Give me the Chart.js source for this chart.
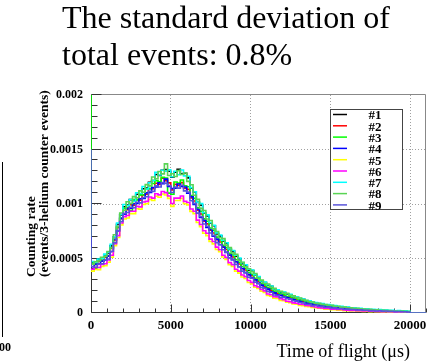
<!DOCTYPE html>
<html>
<head>
<meta charset="utf-8">
<script src="https://cdn.jsdelivr.net/npm/chart.js@4.4.1/dist/chart.umd.min.js"></script>
<style>
  html, body { margin: 0; padding: 0; background: #ffffff; }
  canvas { display: block; }
</style>
</head>
<body>
<canvas id="tof" width="445" height="364"></canvas>
<script>
// Time-of-flight spectra of nine runs, counting rate normalised to the 3He monitor.
const seriesLabels = ['#1', '#2', '#3', '#4', '#5', '#6', '#7', '#8', '#9'];
const seriesColors = ['#000000', '#ff0000', '#00ff00', '#0000ff', '#ffff00',
                      '#ff00ff', '#00ffff', '#59d454', '#5954d9'];

const BIN_WIDTH = 200;      // µs per bin
const DATA_END = 20000;     // last filled bin edge, µs
const RANGE_END = 21000;    // axis end, µs
const RATE_UNIT = 1e-6;     // rates below are stored in units of 1e-6

// content of the very first (narrow) bin of every run
const firstBin = [462, 448, 2400, 700, 384, 402, 472, 600, 1500];

// bin contents, 0 .. 20000 µs in 200 µs bins
const rate1 = [462,460,494,500,534,552,616,700,814,900,
  975,990,1040,1036,1090,1086,1140,1146,1200,1216,
  1270,1262,1310,1316,1300,1246,1292,1318,1276,1282,
  1240,1146,1110,1016,990,916,890,826,800,726,
  708,662,638,582,568,522,498,452,438,392,
  390,350,330,290,280,255,245,215,210,190,
  188,172,168,150,146,130,126,110,108,95,
  93,83,82,73,73,65,65,57,57,49,
  49,44,43,39,39,34,34,30,30,26,
  26,22,23,19,20,16,17,14,14,11];
const rate2 = [448,446,474,476,510,520,592,668,782,864,
  940,948,994,990,1040,1036,1084,1090,1140,1140,
  1190,1180,1236,1214,1194,1130,1180,1170,1196,1146,
  1134,1056,1028,942,908,842,818,760,734,672,
  652,604,582,530,514,470,450,406,394,352,
  342,304,290,256,245,219,210,185,181,163,
  159,143,139,123,121,107,104,90,90,78,
  77,68,67,59,59,51,52,45,46,39,
  40,36,35,31,32,28,28,25,25,22,
  22,19,20,17,18,15,16,13,14,11];
const rate3 = [458,452,482,484,518,528,600,676,790,872,
  962,968,940,1040,1038,1084,1082,1138,1140,1188,
  1214,1204,1244,1238,1100,1090,1202,1192,1220,1168,
  1158,1078,1052,964,932,864,842,780,758,696,
  670,622,600,548,532,488,466,426,410,372,
  354,318,302,270,258,233,223,200,195,179,
  168,152,149,133,131,117,115,101,100,90,
  83,74,73,65,66,58,59,52,53,46,
  43,39,39,35,36,32,32,29,29,26,
  25,22,23,20,21,18,19,16,17,14];
const rate4 = [424,446,450,476,484,522,562,674,752,868,
  906,958,962,1002,1006,1048,1050,1102,1106,1152,
  1156,1194,1186,1228,1160,1142,1146,1184,1160,1156,
  1100,1066,996,952,876,850,786,766,704,678,
  626,606,556,532,490,470,424,408,370,352,
  322,305,272,256,228,219,194,185,167,163,
  148,142,129,123,111,107,95,91,81,79,
  71,68,61,59,54,52,47,46,41,40,
  36,36,32,32,29,29,25,26,22,23,
  19,20,17,18,15,16,13,14,11,12];
const rate5 = [384,400,398,426,434,466,512,618,692,808,
  862,872,912,912,956,952,996,1002,1042,1032,
  1072,1062,1092,1082,1052,978,1032,1032,1052,1002,
  992,932,912,830,792,732,710,656,634,582,
  562,514,492,444,426,384,366,330,316,280,
  267,236,226,201,189,161,154,136,134,116,
  113,98,94,83,80,70,68,59,58,50,
  49,43,41,36,35,30,30,26,26,22,
  22,19,20,17,18,15,16,13,14,11,
  12,9,11,8,10,7,9,6,8,5];
const rate6 = [402,420,418,446,452,486,530,636,710,826,
  884,894,934,934,978,974,1018,1024,1064,1054,
  1094,1084,1114,1104,1074,1004,1054,1054,1074,1024,
  1014,954,934,852,812,754,732,678,656,604,
  580,530,510,462,444,402,384,348,334,298,
  281,250,240,215,203,175,168,150,148,131,
  123,108,104,93,90,80,78,69,68,60,
  55,49,47,42,41,36,36,32,32,28,
  26,23,24,21,22,19,20,17,18,15,
  15,12,14,11,13,10,12,9,11,8];
const rate7 = [472,466,496,502,540,558,630,700,826,905,
  995,985,1041,1025,1103,1096,1160,1138,1195,1215,
  1290,1266,1310,1302,1313,1250,1300,1268,1312,1258,
  1255,1150,1112,1015,1003,920,900,830,805,735,
  716,668,644,588,574,530,504,462,443,402,
  394,352,334,294,283,259,248,220,212,195,
  193,176,171,155,149,134,129,115,111,100,
  97,88,86,78,77,70,68,62,61,54,
  54,48,48,43,44,39,38,35,35,31,
  31,27,28,24,25,21,22,19,19,16];
const rate8 = [448,470,478,512,519,564,598,718,796,918,
  942,1020,1004,1068,1058,1120,1108,1178,1166,1248,
  1232,1298,1276,1368,1262,1278,1252,1306,1270,1284,
  1208,1176,1080,1042,960,940,862,848,772,748,
  690,682,620,600,552,538,482,466,424,406,
  380,362,320,302,271,266,236,226,202,199,
  182,180,162,157,141,137,121,117,103,101,
  90,88,79,78,70,70,62,62,54,54,
  48,47,42,42,38,37,33,33,29,29,
  25,25,22,22,19,19,16,17,13,14];
const rate9 = [426,420,450,452,486,496,566,644,756,840,
  914,922,970,966,1016,1010,1060,1066,1116,1116,
  1166,1156,1196,1190,1170,1106,1156,1146,1172,1120,
  1110,1030,1006,916,886,816,796,734,712,646,
  628,580,558,506,490,446,424,384,370,328,
  320,283,269,235,225,198,190,165,162,143,
  147,131,128,112,110,96,94,80,80,68,
  71,62,61,53,54,46,47,40,41,34,
  36,32,32,28,29,25,25,22,22,19,
  20,17,18,15,16,13,14,11,12,9];
const rates = [rate1, rate2, rate3, rate4, rate5, rate6, rate7, rate8, rate9];

const xTickValues = [0, 5000, 10000, 15000, 20000];
const xTickLabels = ['0', '5000', '10000', '15000', '20000'];
const yTickValues = [0, 0.0005, 0.001, 0.0015, 0.002];
const yTickLabels = ['0', '0.0005', '0.001', '0.0015', '0.002'];

const titleLines = ['The standard deviation of', 'total events: 0.8%'];
const yTitleLines = ['Counting rate', '(events/3-helium counter events)'];
const xTitle = 'Time of flight (\u03bcs)';
const edgeLabel = '00';

const X_MINOR = 1000, X_MAJOR = 5000;
const Y_MINOR_COUNT = 20, Y_MINOR_PER_MAJOR = 5;
const SERIF = "'Liberation Serif', 'Times New Roman', serif";

// histogram outline: first narrow bin, then one point per bin left edge, then empty range
function histogramPoints(spike, values) {
  const pts = [{ x: 0, y: spike * RATE_UNIT }];
  values.forEach((v, k) => pts.push({ x: k * BIN_WIDTH, y: v * RATE_UNIT }));
  pts.push({ x: DATA_END, y: 0 });
  pts.push({ x: RANGE_END, y: 0 });
  return pts;
}

const datasets = rates.map((vals, i) => ({
  label: seriesLabels[i],
  data: histogramPoints(firstBin[i], vals),
  borderColor: seriesColors[i],
  backgroundColor: seriesColors[i],
  borderWidth: 1.6,
  pointRadius: 0,
  fill: false,
  stepped: true,
  tension: 0,
  order: rates.length - 1 - i   // later runs drawn over earlier ones
}));

const decorations = {
  id: 'decorations',
  beforeDatasetsDraw(chart) {
    const { ctx, chartArea: a, scales: { x, y } } = chart;
    const L = Math.round(a.left) + 0.5, R = Math.round(a.right) - 0.5;
    const T = Math.round(a.top) - 0.5, B = Math.round(a.bottom) - 0.5;
    ctx.save();
    ctx.lineWidth = 1;
    // frame: top and right in grey
    ctx.strokeStyle = '#888888';
    ctx.beginPath();
    ctx.moveTo(L, T); ctx.lineTo(R, T); ctx.lineTo(R, B);
    ctx.stroke();
    // axes and inward ticks
    ctx.strokeStyle = '#333333';
    ctx.beginPath();
    ctx.moveTo(L, T); ctx.lineTo(L, B); ctx.lineTo(R, B);
    for (let v = 0; v <= RANGE_END; v += X_MINOR) {
      const px = Math.round(x.getPixelForValue(v)) + 0.5;
      const len = v % X_MAJOR === 0 ? 8 : 4;
      ctx.moveTo(px, B); ctx.lineTo(px, B - len);
    }
    for (let k = 0; k <= Y_MINOR_COUNT; k++) {
      const v = k * (yTickValues[1] / Y_MINOR_PER_MAJOR);
      const py = Math.round(y.getPixelForValue(v)) - 0.5;
      const len = k % Y_MINOR_PER_MAJOR === 0 ? 10 : 6;
      ctx.moveTo(L, py); ctx.lineTo(L + len, py);
    }
    ctx.stroke();
    ctx.restore();
  },
  afterDraw(chart) {
    const { ctx } = chart;
    ctx.save();
    ctx.fillStyle = '#000000';

    // title
    ctx.font = '32px ' + SERIF;
    ctx.textAlign = 'left';
    ctx.textBaseline = 'alphabetic';
    ctx.fillText(titleLines[0], 62, 28);
    ctx.fillText(titleLines[1], 62, 65);

    // x-axis title
    ctx.font = '18px ' + SERIF;
    ctx.textAlign = 'right';
    ctx.fillText(xTitle, 410, 357);

    // y-axis title, two rotated lines
    ctx.font = 'bold 13.5px ' + SERIF;
    ctx.textAlign = 'left';
    ctx.save();
    ctx.translate(35, 277);
    ctx.rotate(-Math.PI / 2);
    ctx.fillText(yTitleLines[0], 0, 0);
    ctx.fillText(yTitleLines[1], 0, 12.5);
    ctx.restore();

    // legend box
    const bx = 330.5, by = 109.5, bw = 72, bh = 100, row = 11.3;
    ctx.fillStyle = '#ffffff';
    ctx.fillRect(bx, by, bw, bh);
    ctx.strokeStyle = '#444444';
    ctx.lineWidth = 1;
    ctx.strokeRect(bx, by, bw, bh);
    ctx.font = 'bold 13px ' + SERIF;
    ctx.textAlign = 'center';
    ctx.textBaseline = 'middle';
    seriesLabels.forEach((lab, i) => {
      const ly = 114.5 + i * row;
      ctx.strokeStyle = seriesColors[i];
      ctx.lineWidth = 1.5;
      ctx.beginPath();
      ctx.moveTo(333, ly); ctx.lineTo(347, ly);
      ctx.stroke();
      ctx.fillStyle = '#000000';
      ctx.fillText(lab, 375, ly + 1.5);
    });

    // neighbouring panel edge at the far left
    ctx.strokeStyle = '#000000';
    ctx.lineWidth = 1;
    ctx.beginPath();
    ctx.moveTo(2.5, 162); ctx.lineTo(2.5, 337);
    ctx.stroke();
    ctx.font = 'bold 12px ' + SERIF;
    ctx.textAlign = 'left';
    ctx.textBaseline = 'alphabetic';
    ctx.fillStyle = '#000000';
    ctx.fillText(edgeLabel, -1, 351);
    ctx.restore();
  }
};

const gridColor = (max) => (c) =>
  (c.tick && c.tick.value > 0 && c.tick.value < max) ? '#a0a0a0' : 'rgba(0,0,0,0)';

new Chart(document.getElementById('tof'), {
  type: 'line',
  data: { datasets },
  options: {
    responsive: false,
    devicePixelRatio: 1,
    animation: false,
    parsing: false,
    layout: { padding: { left: 0, right: 19, top: 95, bottom: 0 } },
    plugins: { legend: { display: false }, tooltip: { enabled: false }, title: { display: false } },
    scales: {
      x: {
        type: 'linear',
        min: 0,
        max: RANGE_END,
        afterBuildTicks: (s) => { s.ticks = xTickValues.map(v => ({ value: v })); },
        afterFit: (s) => { s.height = 51; },
        ticks: {
          autoSkip: false, maxRotation: 0, padding: 5, color: '#000000',
          font: { family: SERIF, size: 13, weight: 'bold' },
          callback: (v, i) => xTickLabels[i]
        },
        grid: { drawTicks: false, color: gridColor(RANGE_END), lineWidth: 1 },
        border: { display: false, dash: [1, 2] }
      },
      y: {
        type: 'linear',
        min: 0,
        max: 0.002,
        afterBuildTicks: (s) => { s.ticks = yTickValues.map(v => ({ value: v })); },
        afterFit: (s) => { s.width = 91; },
        ticks: {
          padding: 8, color: '#000000',
          font: { family: SERIF, size: 12, weight: 'bold' },
          callback: (v, i) => yTickLabels[i]
        },
        grid: { drawTicks: false, color: gridColor(0.002), lineWidth: 1 },
        border: { display: false, dash: [1, 2] }
      }
    }
  },
  plugins: [decorations]
});
</script>
</body>
</html>
